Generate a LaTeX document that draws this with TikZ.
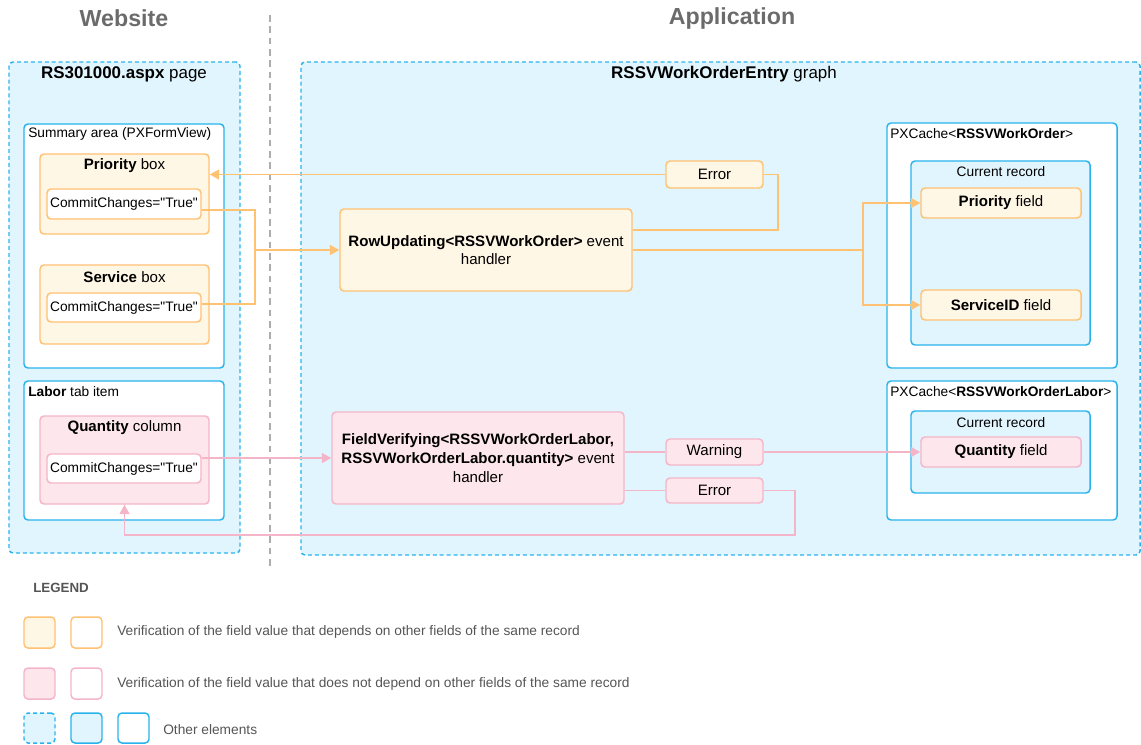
\documentclass[tikz,border=0pt]{standalone}
\usepackage{fontspec}
\setmainfont{Liberation Sans}[Ligatures=TeXOff]
\usetikzlibrary{arrows.meta,fit}
\definecolor{orangeedge}{HTML}{FFC172}
\definecolor{orangefill}{HTML}{FFF7E6}
\definecolor{pinkedge}{HTML}{F5B5C8}
\definecolor{pinkfill}{HTML}{FDE6EC}
\definecolor{blueedge}{HTML}{29B3EC}
\definecolor{bluefill}{HTML}{E1F5FE}
\definecolor{titlegray}{HTML}{6B6B6B}
\definecolor{legendgray}{HTML}{555555}

\begin{document}
\begin{tikzpicture}[x=0.75pt, y=-0.75pt,
		every node/.style={font=\fontsize{10.3}{12.5}\selectfont, inner sep=0pt},
		big/.style={font=\fontsize{12.7}{15}\selectfont},
		mid/.style={font=\fontsize{11.3}{14}\selectfont, align=center},
		area/.style={draw=blueedge, line width=1.1pt, rounded corners=3pt},
		dasharea/.style={area, fill=bluefill, dash pattern=on 3pt off 2.2pt},
		whitearea/.style={area, fill=white},
		bluearea/.style={area, fill=bluefill},
		orbox/.style={draw=orangeedge, fill=orangefill, line width=1.1pt, rounded corners=3pt},
		pibox/.style={draw=pinkedge, fill=pinkfill, line width=1.1pt, rounded corners=3pt},
		orwhite/.style={orbox, fill=white},
		piwhite/.style={pibox, fill=white},
		orline/.style={draw=orangeedge, line width=1pt},
		piline/.style={draw=pinkedge, line width=1pt},
		orarr/.style={orline, -{Triangle[length=7pt,width=7.5pt]}, orangeedge},
		piarr/.style={piline, -{Triangle[length=7pt,width=7.5pt]}, pinkedge}
		]
	\path[use as bounding box] (0,0) rectangle (1141,744);

	% column titles
	\node[font=\bfseries\fontsize{17.4}{20}\selectfont, text=titlegray] (webtitle) at (124,18) {Website};
	\node[font=\bfseries\fontsize{17.4}{20}\selectfont, text=titlegray] (apptitle) at (732,18) {Application};
	\draw[draw=black!32, line width=1.5pt, dash pattern=on 5pt off 3.5pt] (270,15) -- (270,570);

	% website side
	\node[dasharea, fit={(9,62) (240,553)}] (page) {};
	\node[big] (pagetitle) at (124,74) {\textbf{RS301000.aspx} page};
	\node[whitearea, fit={(24,124) (224,368)}] (summ) {};
	\node[anchor=west] (summtitle) at (28,134) {Summary area (PXFormView)};
	\node[orbox, fit={(40,154) (209,234)}] (prio) {};
	\node[mid] (priotitle) at (124.5,166) {\textbf{Priority} box};
	\node[orwhite, fit={(47,189) (201,219)}] (prioc) {};
	\node (prioctext) at (prioc) {CommitChanges="True"};
	\node[orbox, fit={(40,265) (209,344)}] (serv) {};
	\node[mid] (servtitle) at (124.5,277) {\textbf{Service} box};
	\node[orwhite, fit={(47,293) (201,322)}] (servc) {};
	\node (servctext) at (servc) {CommitChanges="True"};
	\node[whitearea, fit={(24,381) (224,520)}] (labor) {};
	\node[anchor=west] (labortitle) at (28,392) {\textbf{Labor} tab item};
	\node[pibox, fit={(40,416) (209,504)}] (qcol) {};
	\node[mid] (qcoltitle) at (124.5,428) {\textbf{Quantity} column};
	\node[piwhite, fit={(47,454) (201,483)}] (qc) {};
	\node (qctext) at (qc) {CommitChanges="True"};

	% application side
	\node[dasharea, fit={(301,62) (1140,555)}] (graph) {};
	\node[big] (graphtitle) at (724,74) {\textbf{RSSVWorkOrderEntry} graph};
	\node[orbox, fit={(340,209) (632,291)}] (rowupd) {};
	\node[mid] (rowupdtext) at (rowupd) {\textbf{RowUpdating<RSSVWorkOrder>} event\\handler};
	\node[orbox, fit={(666,161) (763,188)}] (err1) {};
	\node[mid] (err1text) at (err1) {Error};
	\node[pibox, fit={(332,412) (624,504)}] (fver) {};
	\node[mid] (fvertext) at (fver) {\textbf{FieldVerifying<RSSVWorkOrderLabor,}\\\textbf{RSSVWorkOrderLabor.quantity>} event\\handler};
	\node[pibox, fit={(666,439) (763,465)}] (warn) {};
	\node[mid] (warntext) at (warn) {Warning};
	\node[pibox, fit={(666,478) (763,503)}] (err2) {};
	\node[mid] (err2text) at (err2) {Error};

	\node[whitearea, fit={(887,123) (1117,368)}] (cache1) {};
	\node[anchor=west] (cache1title) at (890,134) {PXCache<\textbf{RSSVWorkOrder}>};
	\node[bluearea, fit={(911,161) (1090,345)}] (cur1) {};
	\node (cur1title) at (1001,172) {Current record};
	\node[orbox, fit={(921,188) (1081,218)}] (pfield) {};
	\node[mid] (pfieldtext) at (pfield) {\textbf{Priority} field};
	\node[orbox, fit={(921,290) (1081,320)}] (sfield) {};
	\node[mid] (sfieldtext) at (sfield) {\textbf{ServiceID} field};
	\node[whitearea, fit={(887,381) (1117,520)}] (cache2) {};
	\node[anchor=west] (cache2title) at (890,392) {PXCache<\textbf{RSSVWorkOrderLabor}>};
	\node[bluearea, fit={(911,411) (1090,493)}] (cur2) {};
	\node (cur2title) at (1001,423) {Current record};
	\node[pibox, fit={(921,437) (1081,467)}] (qfield) {};
	\node[mid] (qfieldtext) at (qfield) {\textbf{Quantity} field};

	% orange connectors
	\coordinate (jin) at (255,250);
	\draw[orline] ([yshift=-4.5pt]prioc.east) -| (jin);
	\draw[orline] ([yshift=2.6pt]servc.east) -| (jin);
	\draw[orarr] (jin) -- (rowupd.west);
	\coordinate (errturn) at (778,230);
	\draw[orline] (rowupd.east |- errturn) -- (errturn) |- (err1.east);
	\draw[orarr] (err1.west) -- (err1.west -| prio.east);
	\coordinate (jout) at (863,250);
	\draw[orline] (rowupd.east) -- (jout);
	\draw[orarr] (jout) |- (pfield.west);
	\draw[orarr] (jout) |- (sfield.west);

	% pink connectors
	\draw[piarr] (qc.east |- fver.west) -- (fver.west);
	\draw[piline] (fver.east |- warn.west) -- (warn.west);
	\draw[piarr] (warn.east) -- (qfield.west);
	\draw[piline] (fver.east |- err2.west) -- (err2.west);
	\coordinate (back) at (795,535);
	\draw[piarr] (err2.east) -| (back) -| (qcol.south);

	% legend
	\node[anchor=west, font=\bfseries\fontsize{10}{12}\selectfont, text=legendgray] (legend) at (33,588) {LEGEND};
	\node[orbox, fit={(24,617) (55,648)}] (lgora) {};
	\node[orwhite, fit={(71,617) (102,648)}] (lgorb) {};
	\node[anchor=west, text=legendgray] (lgortext) at (117,632) {Verification of the field value that depends on other fields of the same record};
	\node[pibox, fit={(24,668) (55,699)}] (lgpia) {};
	\node[piwhite, fit={(71,668) (102,699)}] (lgpib) {};
	\node[anchor=west, text=legendgray] (lgpitext) at (117,684) {Verification of the field value that does not depend on other fields of the same record};
	\node[dasharea, fit={(24,713) (55,743)}] (lgbla) {};
	\node[bluearea, fit={(71,713) (102,743)}] (lgblb) {};
	\node[whitearea, fit={(118,713) (149,743)}] (lgblc) {};
	\node[anchor=west, text=legendgray] (lgbltext) at (163,730) {Other elements};
\end{tikzpicture}
\end{document}
